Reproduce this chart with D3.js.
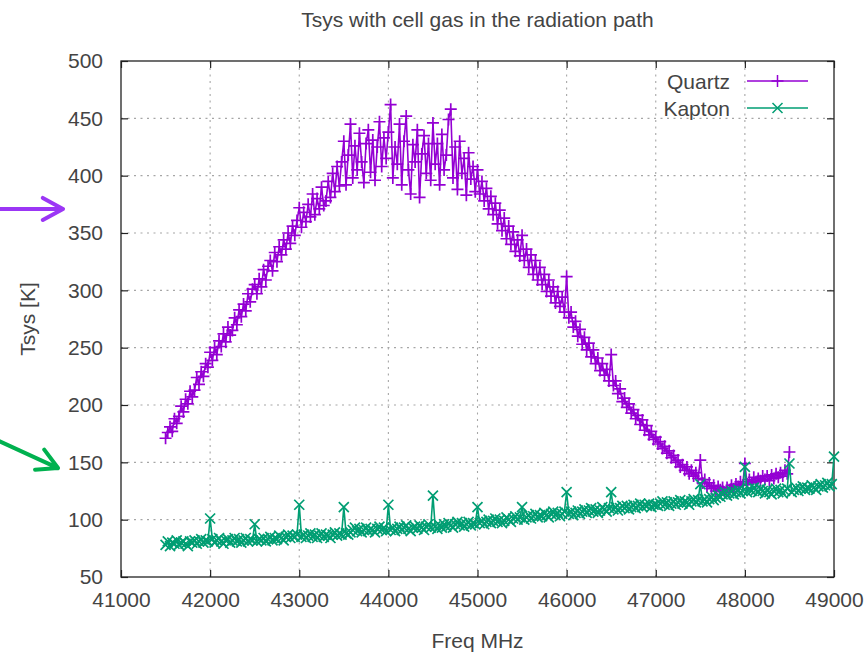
<!DOCTYPE html>
<html>
<head>
<meta charset="utf-8">
<script src="https://cdn.jsdelivr.net/npm/d3@7"></script>
<style>
  html, body { margin: 0; padding: 0; background: #fff; }
  svg { display: block; }
  text { font-family: "Liberation Sans", Arial, sans-serif; fill: #444; }
</style>
</head>
<body>
<svg id="chart" width="868" height="654"></svg>
<script>
// Channel frequencies (MHz), 25 MHz spacing
const freqMHz = [
  41500,41525,41550,41575,41600,41625,41650,41675,41700,41725,41750,41775,41800,41825,41850,41875,41900,41925,41950,41975,
  42000,42025,42050,42075,42100,42125,42150,42175,42200,42225,42250,42275,42300,42325,42350,42375,42400,42425,42450,42475,
  42500,42525,42550,42575,42600,42625,42650,42675,42700,42725,42750,42775,42800,42825,42850,42875,42900,42925,42950,42975,
  43000,43025,43050,43075,43100,43125,43150,43175,43200,43225,43250,43275,43300,43325,43350,43375,43400,43425,43450,43475,
  43500,43525,43550,43575,43600,43625,43650,43675,43700,43725,43750,43775,43800,43825,43850,43875,43900,43925,43950,43975,
  44000,44025,44050,44075,44100,44125,44150,44175,44200,44225,44250,44275,44300,44325,44350,44375,44400,44425,44450,44475,
  44500,44525,44550,44575,44600,44625,44650,44675,44700,44725,44750,44775,44800,44825,44850,44875,44900,44925,44950,44975,
  45000,45025,45050,45075,45100,45125,45150,45175,45200,45225,45250,45275,45300,45325,45350,45375,45400,45425,45450,45475,
  45500,45525,45550,45575,45600,45625,45650,45675,45700,45725,45750,45775,45800,45825,45850,45875,45900,45925,45950,45975,
  46000,46025,46050,46075,46100,46125,46150,46175,46200,46225,46250,46275,46300,46325,46350,46375,46400,46425,46450,46475,
  46500,46525,46550,46575,46600,46625,46650,46675,46700,46725,46750,46775,46800,46825,46850,46875,46900,46925,46950,46975,
  47000,47025,47050,47075,47100,47125,47150,47175,47200,47225,47250,47275,47300,47325,47350,47375,47400,47425,47450,47475,
  47500,47525,47550,47575,47600,47625,47650,47675,47700,47725,47750,47775,47800,47825,47850,47875,47900,47925,47950,47975,
  48000,48025,48050,48075,48100,48125,48150,48175,48200,48225,48250,48275,48300,48325,48350,48375,48400,48425,48450,48475,
  48500,48525,48550,48575,48600,48625,48650,48675,48700,48725,48750,48775,48800,48825,48850,48875,48900,48925,48950,48975,
  49000
];

// Tsys [K] through the quartz window (41500 - 48500 MHz)
const quartzTsys = [
  171,176,181,177,188,184,190,199,194,205,201,212,207,213,224,218,229,225,236,233,
  246,239,250,244,256,251,262,255,268,261,265,276,270,283,277,288,282,297,290,301,
  305,297,310,303,318,309,321,326,317,333,325,338,331,344,336,350,341,356,348,361,
  372,355,368,360,375,364,384,366,380,371,390,374,378,395,381,402,386,408,391,412,
  430,392,418,445,398,426,405,437,412,394,428,440,403,431,396,425,447,408,433,415,
  438,462,398,425,410,445,392,430,452,405,384,427,412,440,381,419,435,402,428,396,
  446,410,428,392,436,405,418,449,458,398,425,388,430,402,415,383,420,397,408,386,
  405,384,395,378,389,371,382,366,376,358,370,352,363,345,356,340,351,334,344,330,
  348,326,336,320,331,314,326,309,320,305,314,299,309,295,303,289,299,286,294,281,
  312,276,281,268,273,260,266,253,259,248,254,242,248,236,241,230,236,226,231,221,
  244,217,221,210,214,203,206,198,201,193,196,188,191,183,187,178,182,174,177,170,
  172,166,168,162,164,158,160,154,156,150,152,146,148,143,146,140,143,138,141,136,
  152,132,135,129,132,127,130,125,129,126,128,124,128,126,130,127,131,129,133,130,
  149,131,135,132,137,133,136,134,138,135,138,134,139,136,140,137,141,138,143,140,
  159
];

// Tsys [K] through the kapton window (41500 - 49000 MHz)
const kaptonTsys = [
  78,81,77,80,79,82,78,80,81,79,77,81,80,82,79,81,83,80,82,81,
  101,83,80,82,84,81,79,82,83,80,82,84,81,83,80,82,84,81,83,82,
  96,81,83,82,84,81,83,85,82,84,83,86,84,82,85,87,84,86,85,87,
  113,85,87,84,86,88,85,87,84,86,88,85,87,86,84,87,89,86,88,87,
  111,88,87,89,91,93,90,92,89,91,93,90,92,91,89,92,94,91,93,90,
  113,91,93,90,92,94,91,93,95,92,90,93,94,92,95,93,91,94,96,93,
  121,94,92,95,93,96,94,97,95,93,96,98,95,97,94,96,98,95,97,96,
  111,97,99,96,98,100,97,99,101,98,100,97,99,102,100,98,101,103,100,102,
  111,100,102,104,101,103,105,102,104,103,106,104,102,105,107,104,106,103,105,107,
  124,105,107,104,106,108,105,107,109,106,108,110,107,109,106,108,111,109,107,110,
  124,109,111,108,110,112,110,112,109,111,113,110,112,114,111,113,112,114,111,113,
  113,112,114,116,113,115,112,114,116,113,115,117,114,116,115,113,116,118,115,117,
  131,116,118,115,118,120,117,119,121,120,122,124,121,123,125,122,124,126,123,125,
  146,124,127,125,128,126,124,127,125,123,126,124,122,125,127,124,126,123,125,127,
  149,124,126,128,125,127,129,126,128,127,130,128,126,129,131,128,130,132,129,131,
  155
];

const seriesNames = ["Quartz", "Kapton"];
const xTicks = [41000,42000,43000,44000,45000,46000,47000,48000,49000];
const yTicks = [50,100,150,200,250,300,350,400,450,500];

// Tsys levels the two side arrows point at
const arrowQuartz = { from: 371, to: 371 };
const arrowKapton = { from: 169, to: 145 };

const colors = { Quartz: "#9400d3", Kapton: "#009e73" };

const W = 868, H = 654;
const margin = { top: 61, right: 34, bottom: 77, left: 121 };
const svg = d3.select("#chart");

const x = d3.scaleLinear().domain([41000, 49000]).range([margin.left, W - margin.right]);
const y = d3.scaleLinear().domain([50, 500]).range([H - margin.bottom, margin.top]);

const fontSize = 21;

// grid
const grid = svg.append("g").attr("stroke", "#a6a6a6").attr("stroke-width", 1.1)
  .attr("stroke-dasharray", "2,4.5");
xTicks.slice(1, -1).forEach(v => {
  grid.append("line").attr("x1", x(v)).attr("x2", x(v))
    .attr("y1", y(50)).attr("y2", y(500));
});
yTicks.slice(1, -1).forEach(v => {
  grid.append("line").attr("x1", x(41000)).attr("x2", x(49000))
    .attr("y1", y(v)).attr("y2", y(v));
});

// axes: ticks pointing inward on all four sides
const tickLen = 7;
function styleAxis(g) {
  g.select(".domain").remove();
  g.selectAll(".tick line").attr("stroke", "#222").attr("stroke-width", 1.2);
  g.selectAll(".tick text").attr("font-size", fontSize).attr("fill", "#444")
    .attr("font-family", "Liberation Sans, Arial, sans-serif");
}
svg.append("g").attr("transform", `translate(0,${y(50)})`)
  .call(d3.axisBottom(x).tickValues(xTicks).tickFormat(d3.format("d"))
    .tickSizeInner(-tickLen).tickSizeOuter(0).tickPadding(15))
  .call(styleAxis);
svg.append("g").attr("transform", `translate(${x(41000)},0)`)
  .call(d3.axisLeft(y).tickValues(yTicks).tickFormat(d3.format("d"))
    .tickSizeInner(-tickLen).tickSizeOuter(0).tickPadding(18))
  .call(styleAxis);
svg.append("g").attr("transform", `translate(0,${y(500)})`)
  .call(d3.axisTop(x).tickValues(xTicks).tickFormat("")
    .tickSizeInner(-tickLen).tickSizeOuter(0))
  .call(styleAxis);
svg.append("g").attr("transform", `translate(${x(49000)},0)`)
  .call(d3.axisRight(y).tickValues(yTicks).tickFormat("")
    .tickSizeInner(-tickLen).tickSizeOuter(0))
  .call(styleAxis);

// frame
svg.append("rect")
  .attr("x", x(41000)).attr("y", y(500))
  .attr("width", x(49000) - x(41000)).attr("height", y(50) - y(500))
  .attr("fill", "none").attr("stroke", "#222").attr("stroke-width", 1.3);

// markers
const plusPath = "M-6,0H6M0,-6V6";
const crossPath = "M-5,-5L5,5M-5,5L5,-5";

function drawSeries(values, name, marker) {
  const pts = values.map((v, i) => [freqMHz[i], v]);
  const g = svg.append("g").attr("class", "series-" + name);
  g.append("path")
    .attr("d", d3.line().x(d => x(d[0])).y(d => y(d[1]))(pts))
    .attr("fill", "none").attr("stroke", colors[name]).attr("stroke-width", 1.6);
  g.selectAll("path.pt").data(pts).join("path")
    .attr("class", "pt")
    .attr("transform", d => `translate(${x(d[0])},${y(d[1])})`)
    .attr("d", marker)
    .attr("fill", "none").attr("stroke", colors[name]).attr("stroke-width", 1.7);
}
drawSeries(quartzTsys, "Quartz", plusPath);
drawSeries(kaptonTsys, "Kapton", crossPath);

// legend
const legendRows = [
  { name: seriesNames[0], marker: plusPath, yPos: 81 },
  { name: seriesNames[1], marker: crossPath, yPos: 108 }
];
const lg = svg.append("g");
legendRows.forEach(r => {
  lg.append("text").attr("x", 730).attr("y", r.yPos + 7.5)
    .attr("text-anchor", "end").attr("font-size", fontSize).text(r.name);
  lg.append("line").attr("x1", 747).attr("x2", 808).attr("y1", r.yPos).attr("y2", r.yPos)
    .attr("stroke", colors[r.name]).attr("stroke-width", 1.5);
  lg.append("path").attr("transform", `translate(777.5,${r.yPos})`).attr("d", r.marker)
    .attr("fill", "none").attr("stroke", colors[r.name]).attr("stroke-width", 1.5);
});

// title and axis labels
svg.append("text").attr("x", (x(41000) + x(49000)) / 2).attr("y", 27)
  .attr("text-anchor", "middle").attr("font-size", fontSize)
  .text("Tsys with cell gas in the radiation path");
svg.append("text").attr("x", (x(41000) + x(49000)) / 2).attr("y", 648)
  .attr("text-anchor", "middle").attr("font-size", fontSize).text("Freq MHz");
svg.append("text").attr("transform", `translate(35,${(y(50) + y(500)) / 2}) rotate(-90)`)
  .attr("text-anchor", "middle").attr("font-size", fontSize).text("Tsys [K]");

// side arrows
function arrow(x0, y0, x1, y1, color) {
  const ang = Math.atan2(y1 - y0, x1 - x0);
  const headLen = 23, spread = 0.5;
  const a1 = ang + Math.PI - spread, a2 = ang + Math.PI + spread;
  const p = d3.path();
  p.moveTo(x0, y0); p.lineTo(x1, y1);
  p.moveTo(x1 + headLen * Math.cos(a1), y1 + headLen * Math.sin(a1));
  p.lineTo(x1, y1);
  p.lineTo(x1 + headLen * Math.cos(a2), y1 + headLen * Math.sin(a2));
  svg.append("path").attr("d", p.toString()).attr("fill", "none")
    .attr("stroke", color).attr("stroke-width", 4)
    .attr("stroke-linecap", "round").attr("stroke-linejoin", "round");
}
arrow(-2, y(arrowQuartz.from), margin.left - 58, y(arrowQuartz.to), "#9b36f5");
arrow(-2, y(arrowKapton.from), margin.left - 63, y(arrowKapton.to), "#00b14f");
</script>
</body>
</html>
